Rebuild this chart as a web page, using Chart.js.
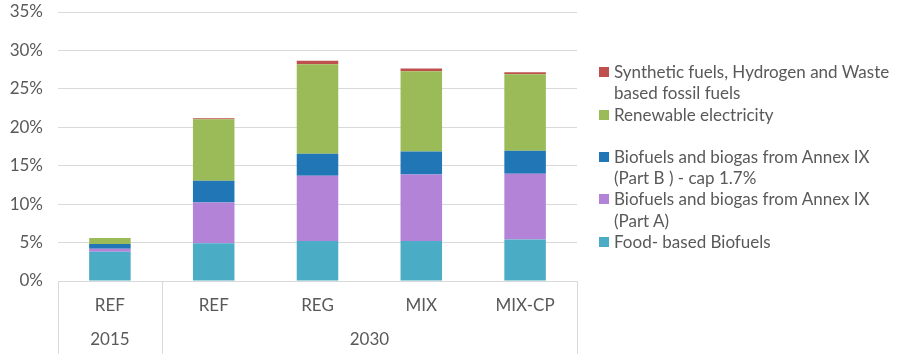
<!DOCTYPE html>
<html>
<head>
<meta charset="utf-8">
<script src="https://cdn.jsdelivr.net/npm/chart.js@4"></script>
<style>
  body { margin: 0; background: #fff; }
  #wrap { position: relative; width: 904px; height: 354px; }
  #legend { position: absolute; left: 599px; top: 61px; font-family: Lato, sans-serif; font-size: 17px; line-height: 21.3px; color: #595959; }
  .item { position: relative; padding-left: 15px; white-space: pre-line; }
  .item .box { position: absolute; left: 0; top: 6px; width: 10px; height: 10px; }
</style>
</head>
<body>
<div id="wrap">
  <canvas id="chart"></canvas>
  <div id="legend"></div>
</div>
<script>
const categories = ['REF', 'REF', 'REG', 'MIX', 'MIX-CP'];
const groupLabels = ['2015', '2030'];
const groupSizes = [1, 4];

const seriesNames = [
  'Food- based Biofuels',
  'Biofuels and biogas from Annex IX\n(Part A)',
  'Biofuels and biogas from Annex IX\n(Part B ) - cap 1.7%',
  'Renewable electricity',
  'Synthetic fuels, Hydrogen and Waste\nbased fossil fuels'
];
const seriesColors = ['#4BACC6', '#B383D8', '#2176B5', '#9BBB59', '#C0504D'];

const foodBased = [3.8, 4.9, 5.2, 5.2, 5.4];
const annexPartA = [0.4, 5.3, 8.5, 8.65, 8.55];
const annexPartB = [0.6, 2.85, 2.85, 3.0, 3.0];
const renewableElec = [0.8, 8.0, 11.65, 10.45, 9.95];
const synthetic = [0, 0.13, 0.45, 0.35, 0.25];

const yTicks = [0, 5, 10, 15, 20, 25, 30, 35];

const seriesValues = [foodBased, annexPartA, annexPartB, renewableElec, synthetic];
const textColor = '#595959';
const gridColor = '#D9D9D9';
const font = { family: 'Lato, sans-serif', size: 17 };

// group labels + separator lines under the category axis
const groupAxis = {
  id: 'groupAxis',
  afterDraw(chart) {
    const ctx = chart.ctx;
    const x = chart.scales.x;
    const top = chart.chartArea.bottom;
    const bottom = chart.height;
    const edges = [x.left];
    let idx = 0;
    groupSizes.forEach(function (n) {
      idx += n;
      if (idx < categories.length) {
        edges.push((x.getPixelForValue(idx - 1) + x.getPixelForValue(idx)) / 2);
      } else {
        edges.push(x.right);
      }
    });
    ctx.save();
    ctx.strokeStyle = gridColor;
    ctx.lineWidth = 1;
    edges.forEach(function (e) {
      const px = Math.round(e) + 0.5;
      ctx.beginPath();
      ctx.moveTo(px, top);
      ctx.lineTo(px, bottom);
      ctx.stroke();
    });
    ctx.fillStyle = textColor;
    ctx.font = font.size + 'px ' + font.family;
    ctx.textAlign = 'center';
    ctx.textBaseline = 'middle';
    groupLabels.forEach(function (g, i) {
      ctx.fillText(g, (edges[i] + edges[i + 1]) / 2, 340);
    });
    ctx.restore();
  }
};

new Chart(document.getElementById('chart'), {
  type: 'bar',
  data: {
    labels: categories,
    datasets: seriesValues.map(function (vals, i) {
      return {
        label: seriesNames[i],
        data: vals,
        backgroundColor: seriesColors[i],
        borderWidth: 0,
        barPercentage: 1,
        categoryPercentage: 0.4
      };
    })
  },
  options: {
    responsive: true,
    maintainAspectRatio: false,
    animation: false,
    layout: { padding: { left: 0, right: 327, top: 12, bottom: 0 } },
    plugins: {
      legend: { display: false },
      tooltip: { enabled: false }
    },
    scales: {
      x: {
        stacked: true,
        grid: { display: false, drawTicks: false },
        border: { display: false },
        ticks: { color: textColor, font: font, padding: 14 },
        afterFit: function (s) { s.height = 73; }
      },
      y: {
        stacked: true,
        min: 0,
        max: 35,
        afterBuildTicks: function (s) { s.ticks = yTicks.map(function (v) { return { value: v }; }); },
        grid: { color: gridColor, lineWidth: 1, drawTicks: true, tickLength: 15, tickColor: 'rgba(0,0,0,0)' },
        border: { display: false },
        ticks: {
          color: textColor,
          font: font,
          padding: 0,
          callback: function (v) { return v + '%'; }
        },
        afterFit: function (s) { s.width = 58; }
      }
    }
  },
  plugins: [groupAxis]
});

// legend: reversed order like the stack
const legend = document.getElementById('legend');
for (let i = seriesNames.length - 1; i >= 0; i--) {
  const item = document.createElement('div');
  item.className = 'item';
  if (i === 2) item.style.marginTop = '21px';
  const box = document.createElement('span');
  box.className = 'box';
  box.style.background = seriesColors[i];
  item.appendChild(box);
  item.appendChild(document.createTextNode(seriesNames[i]));
  legend.appendChild(item);
}
</script>
</body>
</html>
